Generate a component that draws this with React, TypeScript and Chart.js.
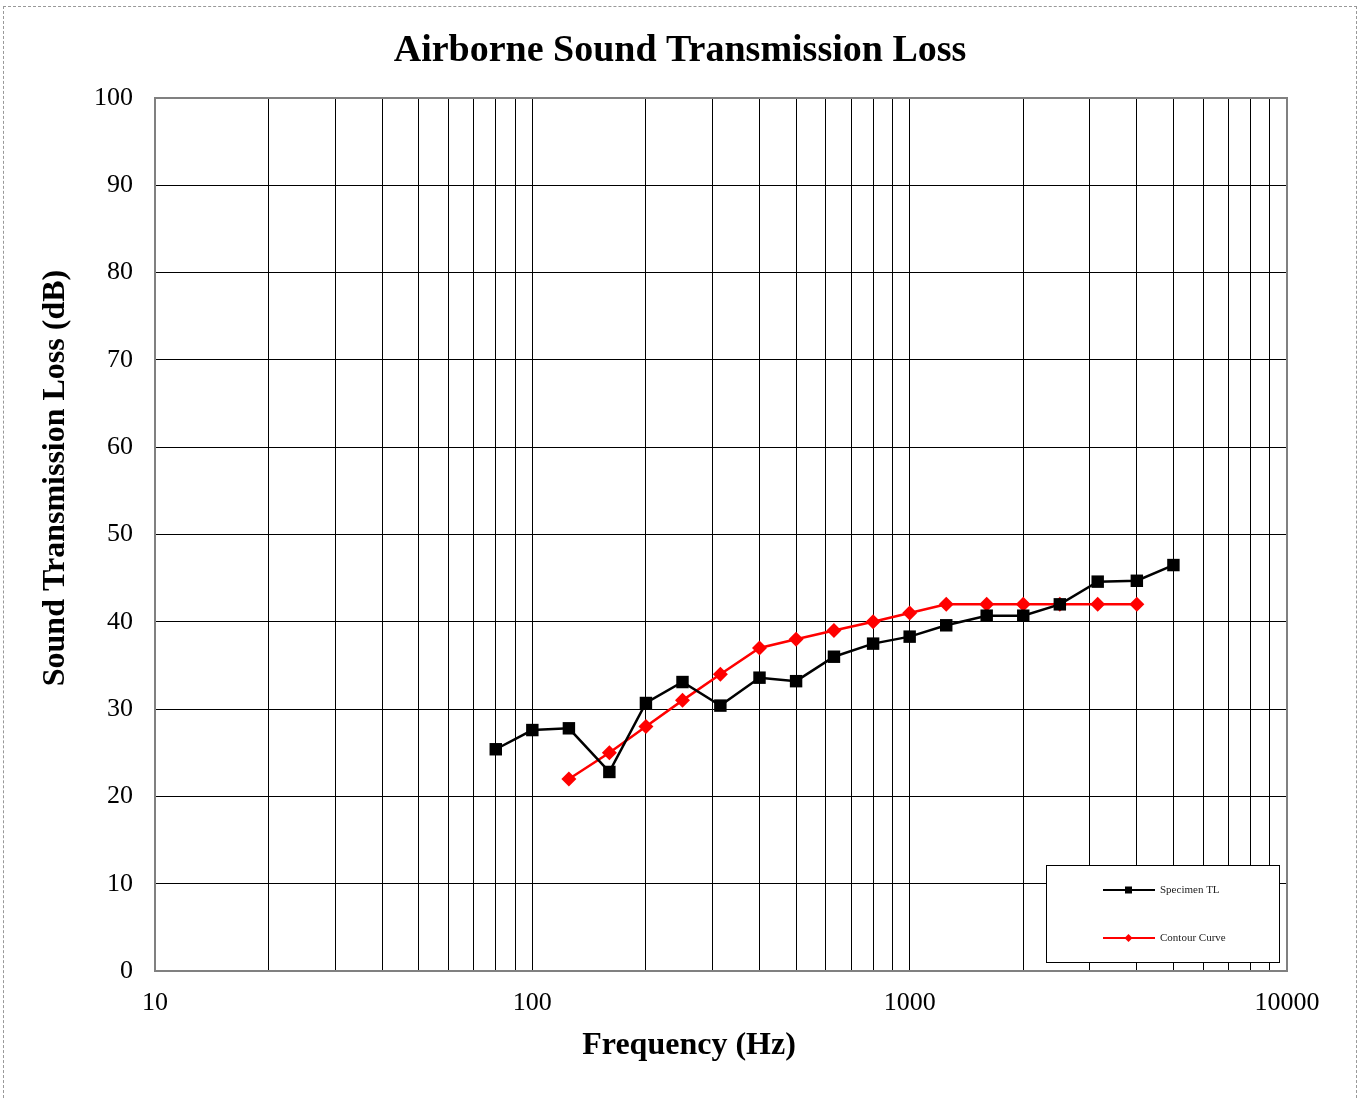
import React, { useEffect, useRef } from "react";
import { Chart, registerables } from "chart.js";

Chart.register(...registerables);

const frequencies = [80, 100, 125, 160, 200, 250, 315, 400, 500, 630, 800, 1000, 1250, 1600, 2000, 2500, 3150, 4000, 5000];
const specimenTL = [25.4, 27.6, 27.8, 22.8, 30.7, 33.1, 30.4, 33.6, 33.2, 36.0, 37.5, 38.3, 39.6, 40.7, 40.7, 42.0, 44.6, 44.7, 46.5];
const contourFreq = [125, 160, 200, 250, 315, 400, 500, 630, 800, 1000, 1250, 1600, 2000, 2500, 3150, 4000];
const contourCurve = [22, 25, 28, 31, 34, 37, 38, 39, 40, 41, 42, 42, 42, 42, 42, 42];
const xTickValues = [10, 20, 30, 40, 50, 60, 70, 80, 90, 100, 200, 300, 400, 500, 600, 700, 800, 900, 1000, 2000, 3000, 4000, 5000, 6000, 7000, 8000, 9000, 10000];
const xTickLabels = ["10", "100", "1000", "10000"];
const chartTitle = "Airborne Sound Transmission Loss";
const xTitle = "Frequency (Hz)";
const yTitle = "Sound Transmission Loss (dB)";
const seriesNames = ["Specimen TL", "Contour Curve"];

const SERIF = "'Liberation Serif', 'Times New Roman', serif";

const decorPlugin = {
  id: "decor",
  afterDraw(chart: any) {
    const { ctx, chartArea } = chart;
    const { left, right, top, bottom } = chartArea;
    ctx.save();
    // plot border
    ctx.strokeStyle = "#808080";
    ctx.lineWidth = 2;
    ctx.strokeRect(left, top, right - left, bottom - top);
    // title
    ctx.fillStyle = "#000";
    ctx.textAlign = "center";
    ctx.textBaseline = "middle";
    ctx.font = `bold 38px ${SERIF}`;
    ctx.fillText(chartTitle, 680, 51);
    // x title
    ctx.font = `bold 32px ${SERIF}`;
    ctx.fillText(xTitle, 689, 1046);
    // y title
    ctx.save();
    ctx.translate(56, 478);
    ctx.rotate(-Math.PI / 2);
    ctx.fillText(yTitle, 0, 0);
    ctx.restore();
    // legend
    const lx = 1046, ly = 865, lw = 233, lh = 97;
    ctx.fillStyle = "#fff";
    ctx.fillRect(lx, ly, lw, lh);
    ctx.strokeStyle = "#000";
    ctx.lineWidth = 1;
    ctx.strokeRect(lx + 0.5, ly + 0.5, lw, lh);
    const items = [
      { name: seriesNames[0], color: "#000", y: 890, style: "rect" },
      { name: seriesNames[1], color: "#ff0000", y: 938, style: "diamond" },
    ];
    ctx.font = `11px ${SERIF}`;
    ctx.textAlign = "left";
    for (const it of items) {
      ctx.strokeStyle = it.color;
      ctx.fillStyle = it.color;
      ctx.lineWidth = 2;
      ctx.beginPath();
      ctx.moveTo(1103, it.y);
      ctx.lineTo(1155, it.y);
      ctx.stroke();
      if (it.style === "rect") {
        ctx.fillRect(1125, it.y - 3.5, 7, 7);
      } else {
        ctx.beginPath();
        ctx.moveTo(1128.5, it.y - 4);
        ctx.lineTo(1132.5, it.y);
        ctx.lineTo(1128.5, it.y + 4);
        ctx.lineTo(1124.5, it.y);
        ctx.closePath();
        ctx.fill();
      }
      ctx.fillStyle = "#222";
      ctx.fillText(it.name, 1160, it.y);
    }
    ctx.restore();
  },
};

export default function App() {
  const canvasRef = useRef<HTMLCanvasElement | null>(null);

  useEffect(() => {
    document.body.style.margin = "0";
    const canvas = canvasRef.current;
    if (!canvas) return;
    const chart = new Chart(canvas, {
      type: "line",
      data: {
        datasets: [
          {
            label: seriesNames[0],
            data: frequencies.map((f, i) => ({ x: f, y: specimenTL[i] })),
            borderColor: "#000",
            backgroundColor: "#000",
            borderWidth: 2.5,
            pointStyle: "rect",
            pointRadius: 8.8,
            pointBorderWidth: 0,
            tension: 0,
          },
          {
            label: seriesNames[1],
            data: contourFreq.map((f, i) => ({ x: f, y: contourCurve[i] })),
            borderColor: "#ff0000",
            backgroundColor: "#ff0000",
            borderWidth: 2.5,
            pointStyle: "rectRot",
            pointRadius: 7.5,
            pointBorderWidth: 0,
            tension: 0,
          },
        ],
      },
      options: {
        animation: false,
        responsive: false,
        devicePixelRatio: 1,
        layout: { padding: { top: 98, right: 71, left: 0, bottom: 0 } },
        plugins: {
          legend: { display: false },
          title: { display: false },
          tooltip: { enabled: false },
        },
        scales: {
          x: {
            type: "logarithmic",
            min: 10,
            max: 10000,
            afterBuildTicks: (scale: any) => {
              scale.ticks = xTickValues.map((v) => ({ value: v }));
            },
            afterFit: (scale: any) => {
              scale.height = 128;
            },
            ticks: {
              autoSkip: false,
              maxRotation: 0,
              padding: 17,
              color: "#000",
              font: { family: SERIF, size: 26 },
              callback: (v: any) => {
                const s = String(v);
                return xTickLabels.includes(s) ? s : "";
              },
            },
            grid: { color: "#000", lineWidth: 1, drawTicks: false },
            border: { display: false },
          },
          y: {
            min: 0,
            max: 100,
            afterFit: (scale: any) => {
              scale.width = 155;
            },
            ticks: {
              stepSize: 10,
              padding: 22,
              color: "#000",
              font: { family: SERIF, size: 26 },
            },
            grid: { color: "#000", lineWidth: 1, drawTicks: false },
            border: { display: false },
          },
        },
      },
      plugins: [decorPlugin],
    } as any);
    return () => chart.destroy();
  }, []);

  return (
    <div style={{ position: "relative", width: 1358, height: 1099, background: "#fff" }}>
      <canvas ref={canvasRef} width={1358} height={1099} style={{ position: "absolute", left: 0, top: 0 }} />
      <div
        style={{
          position: "absolute",
          left: 3,
          top: 6,
          width: 1352,
          height: 1110,
          border: "1px dashed #999",
          pointerEvents: "none",
        }}
      />
    </div>
  );
}
